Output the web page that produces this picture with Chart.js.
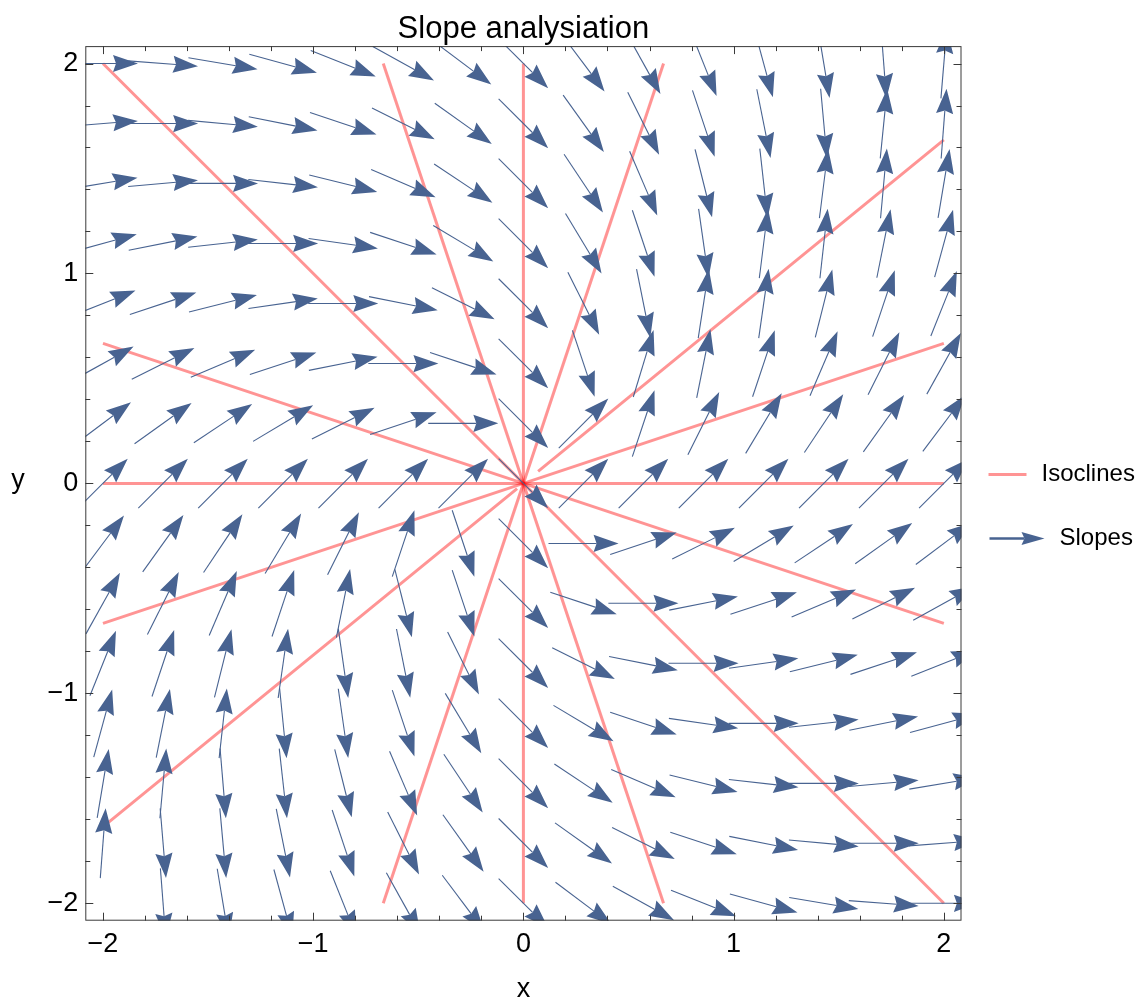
<!DOCTYPE html>
<html>
<head>
<meta charset="utf-8">
<title>Slope analysiation</title>
<script src="https://cdn.jsdelivr.net/npm/chart.js@4.4.1/dist/chart.umd.min.js"></script>
<style>
  html, body { margin: 0; padding: 0; background: #fff; }
  #wrap { width: 1140px; height: 1004px; }
</style>
</head>
<body>
<div id="wrap"><canvas id="slopeChart" width="1140" height="1004"></canvas></div>
<script>
// sample grid (x left to right, y top to bottom)
const gridX = [-2, -1.714, -1.429, -1.143, -0.857, -0.571, -0.286, 0, 0.286, 0.571, 0.857, 1.143, 1.429, 1.714, 2];
const gridY = [2, 1.714, 1.429, 1.143, 0.857, 0.571, 0.286, 0, -0.286, -0.571, -0.857, -1.143, -1.429, -1.714, -2];

// slope dy/dx of the arrow at each grid point, one array per row (null = no arrow)
const slopesY200 = [0, -0.077, -0.167, -0.273, -0.4, -0.556, -0.75, -1, -1.333, -1.8, -2.5, -3.667, -6, -13, 12];
const slopesY171 = [0.077, 0, -0.091, -0.2, -0.333, -0.5, -0.714, -1, -1.4, -2, -3, -5, -11, 10, 13];
const slopesY143 = [0.167, 0.091, 0, -0.111, -0.25, -0.429, -0.667, -1, -1.5, -2.333, -4, -9, 8, 11, 6];
const slopesY114 = [0.273, 0.2, 0.111, 0, -0.143, -0.333, -0.6, -1, -1.667, -3, -7, 8, 9, 5, 3.667];
const slopesY086 = [0.4, 0.333, 0.25, 0.143, 0, -0.2, -0.5, -1, -2, -5, 6.5, 7, 4, 3, 2.5];
const slopesY057 = [0.556, 0.5, 0.429, 0.333, 0.2, 0, -0.333, -1, -3, 3.3, 5, 3, 2.333, 2, 1.8];
const slopesY029 = [0.75, 0.714, 0.667, 0.6, 0.5, 0.333, 0, -1, 1, 3, 2, 1.667, 1.5, 1.4, 1.333];
const slopesY000 = [1, 1, 1, 1, 1, 1, 1, -1, 1, 1, 1, 1, 1, 1, 1];
const slopesYm029 = [1.333, 1.4, 1.5, 1.667, 2, 3, -3, -1, 0, 0.333, 0.5, 0.6, 0.667, 0.714, 0.75];
const slopesYm057 = [1.8, 2, 2.333, 3, 5, -4, -3, -1, -0.333, 0, 0.2, 0.333, 0.429, 0.5, 0.556];
const slopesYm086 = [2.5, 3, 4, 7, -7, -5, -2, -1, -0.5, -0.2, 0, 0.143, 0.25, 0.333, 0.4];
const slopesYm114 = [3.667, 5, 9, -10, -7, -3, -1.667, -1, -0.6, -0.333, -0.143, 0, 0.111, 0.2, 0.273];
const slopesYm143 = [6, 11, -12, -9, -4, -2.333, -1.5, -1, -0.667, -0.429, -0.25, -0.111, 0, 0.091, 0.167];
const slopesYm171 = [13, -12, -11, -5, -3, -2, -1.4, -1, -0.714, -0.5, -0.333, -0.2, -0.091, 0, 0.077];
const slopesYm200 = [null, -13, -6, -3.667, -2.5, -1.8, -1.333, -1, -0.75, -0.556, -0.4, -0.273, -0.167, -0.077, 0];

const slopeRows = [slopesY200, slopesY171, slopesY143, slopesY114, slopesY086, slopesY057, slopesY029, slopesY000,
  slopesYm029, slopesYm057, slopesYm086, slopesYm114, slopesYm143, slopesYm171, slopesYm200];

// isoclines: straight lines through the origin, given by slope (Infinity = vertical)
const isoclineSlopes = [-3, -1, -1 / 3, 0, 1 / 3, 9 / 11, 3, Infinity];
// x-interval left open near the origin, where the contour is broken
const isoclineGaps = [null, null, null, null, null, [-0.03, 0.07], null, null];
const isoclineExtent = 2;

const tickValues = [-2, -1, 0, 1, 2];
const legendLabels = ['Isoclines', 'Slopes'];
const axisLabels = ['x', 'y'];

const FONT = '"Liberation Sans", Arial, sans-serif';
const ARROW_COLOR = '#486391';
const ISO_COLOR = 'rgba(255, 0, 0, 0.42)';
const ARROW_LEN = 1 / 3;   // arrow length in data units

function isoclinePoints(m, gap) {
  if (!isFinite(m)) return [{ x: 0, y: -isoclineExtent }, { x: 0, y: isoclineExtent }];
  const ex = Math.abs(m) <= 1 ? isoclineExtent : isoclineExtent / Math.abs(m);
  const pt = x => ({ x: x, y: m * x });
  if (gap) return [pt(-ex), pt(gap[0]), { x: 0, y: null }, pt(gap[1]), pt(ex)];
  return [pt(-ex), pt(ex)];
}

const slopePoints = [];
gridY.forEach((yv, r) => {
  gridX.forEach((xv, c) => {
    slopePoints.push({ x: xv, y: yv, slope: slopeRows[r][c] });
  });
});

function drawArrow(ctx, x0, y0, x1, y1, headLen, headHalf, notch) {
  const len = Math.hypot(x1 - x0, y1 - y0);
  const ux = (x1 - x0) / len, uy = (y1 - y0) / len;
  const nx = -uy, ny = ux;
  const bx = x1 - ux * headLen, by = y1 - uy * headLen;
  const mx = x1 - ux * (headLen - notch), my = y1 - uy * (headLen - notch);
  ctx.beginPath();
  ctx.moveTo(x0, y0);
  ctx.lineTo(mx, my);
  ctx.stroke();
  ctx.beginPath();
  ctx.moveTo(x1, y1);
  ctx.lineTo(bx + nx * headHalf, by + ny * headHalf);
  ctx.lineTo(mx, my);
  ctx.lineTo(bx - nx * headHalf, by - ny * headHalf);
  ctx.closePath();
  ctx.fill();
}

// Slope arrows, centred on the grid points
const arrowPlugin = {
  id: 'slopeArrows',
  afterDatasetsDraw(chart) {
    const { ctx, chartArea, scales: { x, y } } = chart;
    const ds = chart.data.datasets.find(d => d.label === 'Slopes');
    ctx.save();
    ctx.beginPath();
    ctx.rect(chartArea.left, chartArea.top, chartArea.right - chartArea.left, chartArea.bottom - chartArea.top);
    ctx.clip();
    ctx.strokeStyle = ARROW_COLOR;
    ctx.fillStyle = ARROW_COLOR;
    ctx.lineWidth = 1.1;
    ds.data.forEach(p => {
      if (p.slope === null) return;
      const n = Math.hypot(1, p.slope);
      const dx = ARROW_LEN / 2 / n, dy = p.slope * dx;
      drawArrow(ctx,
        x.getPixelForValue(p.x - dx), y.getPixelForValue(p.y - dy),
        x.getPixelForValue(p.x + dx), y.getPixelForValue(p.y + dy),
        25, 8.6, 3);
    });
    ctx.restore();
  }
};

// Mathematica style frame with inward ticks on all sides, plus the upright y label
const framePlugin = {
  id: 'frameTicks',
  afterDraw(chart) {
    const { ctx, chartArea: a, scales: { x, y } } = chart;
    ctx.save();
    ctx.strokeStyle = '#3a3a3a';
    ctx.lineWidth = 1;
    ctx.strokeRect(a.left + 0.5, a.top + 0.5, a.right - a.left - 1, a.bottom - a.top - 1);
    ctx.beginPath();
    for (let k = -10; k <= 10; k++) {
      const v = k / 5;
      const len = k % 5 === 0 ? 8 : 5;
      const px = Math.round(x.getPixelForValue(v)) + 0.5;
      const py = Math.round(y.getPixelForValue(v)) + 0.5;
      ctx.moveTo(px, a.bottom); ctx.lineTo(px, a.bottom - len);
      ctx.moveTo(px, a.top); ctx.lineTo(px, a.top + len);
      ctx.moveTo(a.left, py); ctx.lineTo(a.left + len, py);
      ctx.moveTo(a.right, py); ctx.lineTo(a.right - len, py);
    }
    ctx.stroke();
    ctx.fillStyle = '#000';
    ctx.font = '27px ' + FONT;
    ctx.textAlign = 'center';
    ctx.textBaseline = 'middle';
    ctx.fillText(axisLabels[1], 18, y.getPixelForValue(0) - 3);
    ctx.restore();
  }
};

// Legend at the right of the frame
const legendPlugin = {
  id: 'sideLegend',
  afterDraw(chart) {
    const { ctx, chartArea: a } = chart;
    const left = a.right + 27;
    const mid = (a.top + a.bottom) / 2;
    const y1 = mid - 9, y2 = mid + 55;
    ctx.save();
    ctx.strokeStyle = ISO_COLOR;
    ctx.lineWidth = 3;
    ctx.beginPath();
    ctx.moveTo(left, y1);
    ctx.lineTo(left + 38, y1);
    ctx.stroke();
    ctx.strokeStyle = ARROW_COLOR;
    ctx.fillStyle = ARROW_COLOR;
    ctx.lineWidth = 2.5;
    drawArrow(ctx, left + 1, y2, left + 56, y2, 23, 6.5, 3);
    ctx.fillStyle = '#000';
    ctx.font = '24px ' + FONT;
    ctx.textBaseline = 'middle';
    ctx.textAlign = 'left';
    ctx.fillText(legendLabels[0], left + 53, y1);
    ctx.fillText(legendLabels[1], left + 71, y2);
    ctx.restore();
  }
};

const fmt = v => (v < 0 ? '\u2212' + Math.abs(v) : String(v));

function initSlopeChart() {
  Chart.defaults.font.family = FONT;
  Chart.defaults.color = '#000';
  const ctx = document.getElementById('slopeChart').getContext('2d');

  const isoDatasets = isoclineSlopes.map((m, i) => ({
    label: legendLabels[0],
    data: isoclinePoints(m, isoclineGaps[i]),
    showLine: true,
    spanGaps: false,
    borderColor: ISO_COLOR,
    borderWidth: 3,
    pointRadius: 0,
    fill: false
  }));

  new Chart(ctx, {
    type: 'scatter',
    data: {
      datasets: [...isoDatasets, {
        label: legendLabels[1],
        data: slopePoints,
        pointRadius: 0,
        showLine: false
      }]
    },
    options: {
      responsive: false,
      animation: false,
      events: [],
      layout: { padding: { top: 0, right: 178.5, bottom: 0, left: 0 } },
      plugins: {
        legend: { display: false },
        tooltip: { enabled: false },
        title: {
          display: true,
          text: 'Slope analysiation',
          fullSize: false,
          color: '#000',
          font: { size: 31, weight: 'normal', lineHeight: 1.1 },
          padding: { top: 12, bottom: 0 }
        }
      },
      scales: {
        x: {
          type: 'linear',
          min: -2.084,
          max: 2.084,
          afterBuildTicks: s => { s.ticks = tickValues.map(v => ({ value: v })); },
          afterFit: s => { s.height = 83.3; },
          grid: { display: false, drawTicks: false },
          border: { display: false },
          ticks: { callback: fmt, font: { size: 27 }, padding: 8, maxRotation: 0 },
          title: { display: true, text: axisLabels[0], font: { size: 27, lineHeight: 1.1 }, padding: 0 }
        },
        y: {
          type: 'linear',
          min: -2.083,
          max: 2.083,
          afterBuildTicks: s => { s.ticks = tickValues.map(v => ({ value: v })); },
          afterFit: s => { s.width = 85.3; },
          grid: { display: false, drawTicks: false },
          border: { display: false },
          ticks: { callback: fmt, font: { size: 27 }, padding: 7 },
          title: { display: false }
        }
      }
    },
    plugins: [arrowPlugin, framePlugin, legendPlugin]
  });
}

document.addEventListener('DOMContentLoaded', initSlopeChart);
</script>
</body>
</html>
